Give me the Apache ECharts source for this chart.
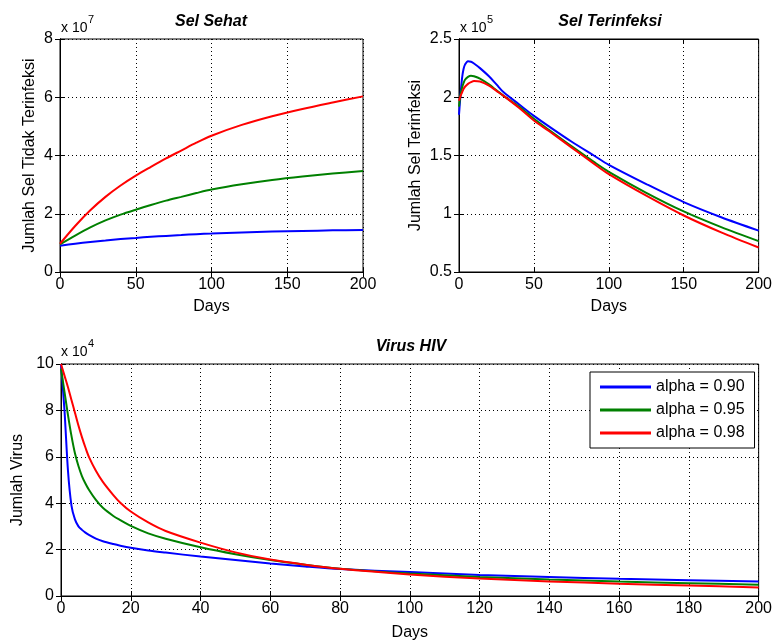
<!DOCTYPE html>
<html>
<head>
<meta charset="utf-8">
<script src="https://cdn.jsdelivr.net/npm/echarts@6/dist/echarts.min.js"></script>
<style>
  html, body { margin: 0; padding: 0; background: #fff; }
  #main { width: 775px; height: 642px; }
</style>
</head>
<body>
<div id="main"></div>
<script>
// Sel Sehat (x 10^7)
var sehatDays = [0, 10, 20, 30, 40, 50, 60, 70, 80, 90, 100, 120, 140, 160, 180, 200];
var sehatBlue = [0.90, 0.97, 1.03, 1.08, 1.13, 1.17, 1.21, 1.24, 1.27, 1.30, 1.32, 1.36, 1.39, 1.41, 1.43, 1.44];
var sehatGreen = [0.95, 1.25, 1.53, 1.77, 1.97, 2.14, 2.30, 2.45, 2.58, 2.71, 2.83, 3.01, 3.16, 3.28, 3.38, 3.47];
var sehatRed = [0.97, 1.58, 2.12, 2.58, 2.97, 3.31, 3.61, 3.90, 4.17, 4.44, 4.68, 5.05, 5.35, 5.60, 5.82, 6.03];

// Sel Terinfeksi (x 10^5)
var infDays = [0, 1, 2, 3, 4, 6, 8, 10, 14, 20, 25, 30, 40, 50, 60, 75, 90, 100, 125, 150, 175, 200];
var infBlue = [1.85, 2.02, 2.16, 2.24, 2.28, 2.31, 2.305, 2.29, 2.25, 2.18, 2.11, 2.04, 1.94, 1.84, 1.75, 1.62, 1.50, 1.42, 1.255, 1.10, 0.97, 0.855];
var infGreen = [1.92, 2.02, 2.08, 2.12, 2.15, 2.175, 2.185, 2.18, 2.16, 2.11, 2.06, 2.01, 1.92, 1.815, 1.72, 1.58, 1.445, 1.36, 1.18, 1.02, 0.885, 0.765];
var infRed = [1.97, 2.01, 2.04, 2.07, 2.09, 2.115, 2.13, 2.14, 2.135, 2.10, 2.055, 2.01, 1.91, 1.80, 1.71, 1.57, 1.43, 1.34, 1.155, 0.985, 0.84, 0.71];

// Virus HIV (x 10^4)
var virDays = [0, 1, 2, 3, 4, 5, 6, 7, 8, 10, 12, 15, 17, 20, 25, 30, 40, 50, 60, 70, 80, 100, 120, 140, 160, 180, 200];
var virBlue = [10, 8.0, 5.4, 3.9, 3.3, 3.0, 2.85, 2.73, 2.63, 2.47, 2.36, 2.24, 2.17, 2.08, 1.96, 1.87, 1.70, 1.55, 1.40, 1.27, 1.16, 1.03, 0.91, 0.82, 0.74, 0.68, 0.63];
var virGreen = [9.8, 8.8, 7.8, 6.9, 6.15, 5.6, 5.17, 4.85, 4.58, 4.14, 3.8, 3.45, 3.27, 3.02, 2.70, 2.47, 2.1, 1.8, 1.55, 1.35, 1.18, 0.97, 0.82, 0.71, 0.62, 0.55, 0.49];
var virRed = [10, 9.5, 9.0, 8.45, 7.9, 7.35, 6.85, 6.4, 6.0, 5.4, 4.92, 4.35, 4.02, 3.64, 3.17, 2.8, 2.3, 1.88, 1.57, 1.35, 1.17, 0.93, 0.75, 0.63, 0.53, 0.45, 0.37];

var names = ['alpha = 0.90', 'alpha = 0.95', 'alpha = 0.98'];
var colors = ['#0000ff', '#008000', '#ff0000'];

function pairs(days, vals) {
    return days.map(function(d, i) { return [d, vals[i]]; });
}

var font = 'Liberation Sans, Arial, sans-serif';

// 主坐标轴 (下/左)
function mainX(grid, interval, gap) {
    return {
        type: 'value', gridIndex: grid, min: 0, max: 200, interval: interval,
        name: 'Days', nameLocation: 'middle', nameGap: gap,
        nameTextStyle: { fontSize: 16, color: '#000', fontFamily: font },
        axisLine: { show: true, lineStyle: { color: '#000', width: 1 } },
        axisTick: { show: true, inside: true, length: 5, lineStyle: { color: '#000' } },
        axisLabel: { fontSize: 16, color: '#000', fontFamily: font, margin: 5 },
        splitLine: { show: true, lineStyle: { color: '#000', type: [1, 3], width: 1 } }
    };
}
function mainY(grid, min, max, interval, name, gap) {
    return {
        type: 'value', gridIndex: grid, min: min, max: max, interval: interval,
        name: name, nameLocation: 'middle', nameGap: gap,
        nameTextStyle: { fontSize: 16, color: '#000', fontFamily: font },
        axisLine: { show: true, lineStyle: { color: '#000', width: 1 } },
        axisTick: { show: true, inside: true, length: 5, lineStyle: { color: '#000' } },
        axisLabel: { fontSize: 16, color: '#000', fontFamily: font, margin: 7 },
        splitLine: { show: true, lineStyle: { color: '#000', type: [1, 3], width: 1 } }
    };
}
// 上/右 刻度
function sideAxis(grid, pos, min, max, interval) {
    return {
        type: 'value', gridIndex: grid, position: pos, min: min, max: max, interval: interval,
        axisLine: { show: true, lineStyle: { color: '#000', width: 1 } },
        axisTick: { show: true, inside: true, length: 5, lineStyle: { color: '#000' } },
        axisLabel: { show: false },
        splitLine: { show: false }
    };
}

var series = [];
function addSeries(xi, yi, days, list) {
    list.forEach(function(vals, k) {
        series.push({
            name: names[k], type: 'line', xAxisIndex: xi, yAxisIndex: yi,
            data: pairs(days, vals), showSymbol: false, symbol: 'none',
            smooth: 0.3,
            lineStyle: { width: 2, color: colors[k] }, itemStyle: { color: colors[k] }
        });
    });
}
addSeries(0, 0, sehatDays, [sehatBlue, sehatGreen, sehatRed]);
addSeries(1, 1, infDays, [infBlue, infGreen, infRed]);
addSeries(2, 2, virDays, [virBlue, virGreen, virRed]);

var titleStyle = { fontSize: 16, fontWeight: 'bold', fontStyle: 'italic', color: '#000', fontFamily: font };

function expText(x, y, base, exp) {
    return [
        { type: 'text', left: x, top: y, style: { text: base, fontSize: 14, fill: '#000', fontFamily: font } },
        { type: 'text', left: x + 27, top: y - 7, style: { text: exp, fontSize: 11, fill: '#000', fontFamily: font } }
    ];
}

var option = {
    animation: false,
    backgroundColor: '#fff',
    title: [
        { text: 'Sel Sehat', left: 211, top: 14, textAlign: 'center', textStyle: titleStyle, padding: 0 },
        { text: 'Sel Terinfeksi', left: 610, top: 14, textAlign: 'center', textStyle: titleStyle, padding: 0 },
        { text: 'Virus HIV', left: 411, top: 339, textAlign: 'center', textStyle: titleStyle, padding: 0 }
    ],
    grid: [
        { left: 60, top: 39, width: 303, height: 233, show: true, borderColor: '#000', borderWidth: 1 },
        { left: 459, top: 39, width: 303, height: 233, show: true, borderColor: '#000', borderWidth: 1 },
        { left: 61, top: 364, width: 701, height: 233, show: true, borderColor: '#000', borderWidth: 1 }
    ],
    xAxis: [
        mainX(0, 50, 27),
        mainX(1, 50, 27),
        mainX(2, 20, 29),
        sideAxis(0, 'top', 0, 200, 50),
        sideAxis(1, 'top', 0, 200, 50),
        sideAxis(2, 'top', 0, 200, 20)
    ],
    yAxis: [
        mainY(0, 0, 8, 2, 'Jumlah Sel Tidak Terinfeksi', 22),
        mainY(1, 0.5, 2.5, 0.5, 'Jumlah Sel Terinfeksi', 35),
        mainY(2, 0, 10, 2, 'Jumlah Virus', 31),
        sideAxis(0, 'right', 0, 8, 2),
        sideAxis(1, 'right', 0.5, 2.5, 0.5),
        sideAxis(2, 'right', 0, 10, 2)
    ],
    legend: {
        data: names, orient: 'vertical', left: 590, top: 372,
        padding: [7, 10, 7, 10], itemGap: 7, itemWidth: 51, itemHeight: 3, icon: 'rect',
        borderColor: '#000', borderWidth: 1, backgroundColor: '#fff', borderRadius: 0,
        textStyle: { fontSize: 16, color: '#000', fontFamily: font, lineHeight: 16 }
    },
    graphic: [].concat(
        expText(61, 21, 'x 10', '7'),
        expText(460, 21, 'x 10', '5'),
        expText(61, 345, 'x 10', '4')
    ),
    series: series
};

var chart = echarts.init(document.getElementById('main'));
chart.setOption(option);
</script>
</body>
</html>
